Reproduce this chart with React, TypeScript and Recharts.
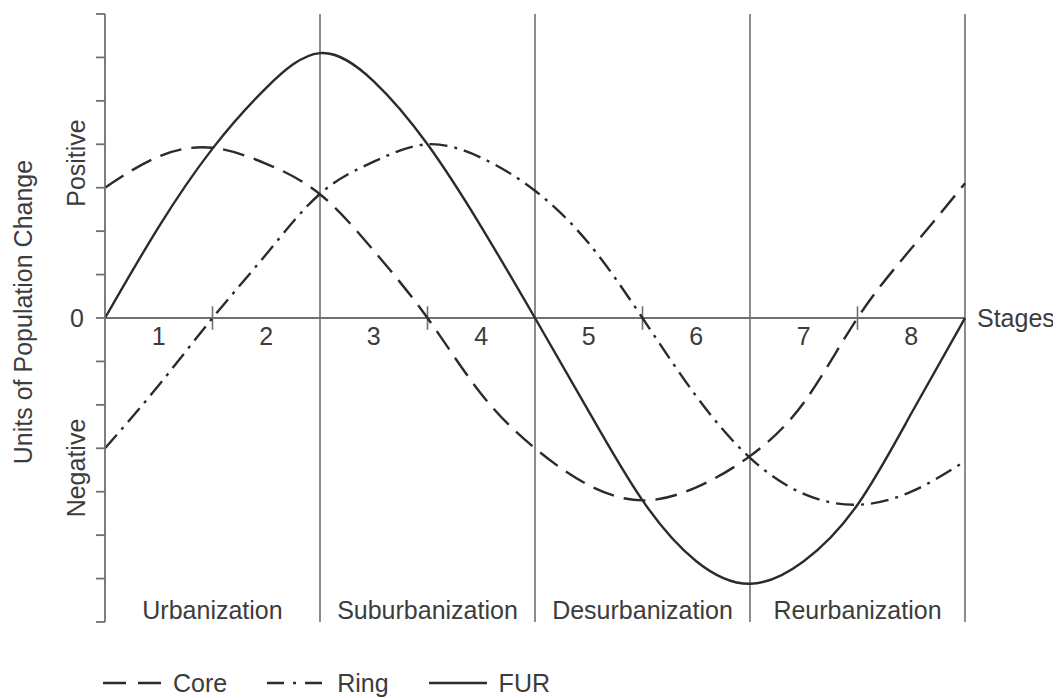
import React from 'react';
import { LineChart, Line, XAxis, YAxis, ReferenceLine, ReferenceDot } from 'recharts';

// values, every half stage
const stages = [0, 0.5, 1, 1.5, 2, 2.5, 3, 3.5, 4, 4.5, 5, 5.5, 6, 6.5, 7, 7.5, 8];
const core = [3.0, 3.72, 3.92, 3.55, 2.85, 1.55, 0, -1.75, -3.0, -3.85, -4.2, -3.9, -3.18, -1.95, 0, 1.6, 3.1];
const ring = [-3.0, -1.55, 0, 1.47, 2.86, 3.6, 4.0, 3.69, 2.93, 1.72, 0, -1.8, -3.22, -4.05, -4.3, -4.0, -3.3];
const fur = [0, 2.1, 3.9, 5.3, 6.1, 5.45, 4.0, 2.1, 0, -2.15, -4.2, -5.6, -6.12, -5.6, -4.3, -2.2, 0];

const yTicks = [-7, -6, -5, -4, -3, -2, -1, 0, 1, 2, 3, 4, 5, 6, 7];
const stageNumbers = ['1', '2', '3', '4', '5', '6', '7', '8'];
const phaseNames = ['Urbanization', 'Suburbanization', 'Desurbanization', 'Reurbanization'];
const phaseEnds = [2, 4, 6, 8];
const crossTicks = [1, 3, 5, 7];
const seriesNames = ['Core', 'Ring', 'FUR'];

const data = stages.map((stage, i) => ({
  stage,
  core: core[i],
  ring: ring[i],
  fur: fur[i],
}));

const INK = '#2b2b2b';
const RULE = '#707070';
const TEXT = '#3c3c3c';
const FS = 25;

const dashes: Record<string, string | undefined> = {
  Core: '22 10',
  Ring: '18 7 3 7',
  FUR: undefined,
};
const legendDashes: Record<string, string | undefined> = {
  Core: '23 12',
  Ring: '17 9 3 9',
  FUR: undefined,
};

const renderYLabels = (props: any) => {
  const vb = props.viewBox || { x: 0, y: 6, width: 97, height: 608 };
  const mid = vb.y + vb.height / 2;
  const cx = vb.x + 15;
  const px = vb.x + 68;
  const items = [
    { t: 'Units of Population Change', x: cx, y: mid - 6 },
    { t: 'Positive', x: px, y: mid - 155 },
    { t: 'Negative', x: px, y: mid + 150 },
  ];
  return (
    <g>
      {items.map((it) => (
        <text
          key={it.t}
          x={it.x}
          y={it.y}
          fill={TEXT}
          fontSize={FS}
          textAnchor="middle"
          dominantBaseline="central"
          transform={`rotate(-90 ${it.x} ${it.y})`}
        >
          {it.t}
        </text>
      ))}
    </g>
  );
};

const Legendish = () => (
  <div
    style={{
      position: 'absolute',
      left: 95,
      top: 662,
      display: 'flex',
      alignItems: 'center',
      gap: 40,
      color: TEXT,
      fontSize: FS,
    }}
  >
    {seriesNames.map((name) => (
      <div key={name} style={{ display: 'flex', alignItems: 'center' }}>
        <svg width={58} height={26}>
          <line x1={0} y1={13} x2={name === 'Ring' ? 56 : 58} y2={13} stroke={INK} strokeWidth={2.4} strokeDasharray={legendDashes[name]} />
        </svg>
        <span style={{ marginLeft: 12, lineHeight: '26px' }}>{name}</span>
      </div>
    ))}
  </div>
);

export default function App() {
  return (
    <div style={{ position: 'relative', width: 1053, height: 690, fontFamily: '"Liberation Sans", Arial, sans-serif' }}>
      <LineChart width={1053} height={690} data={data} margin={{ top: 6, right: 96, bottom: 76, left: 0 }}>
        <XAxis dataKey="stage" type="number" domain={[0, 8]} hide />
        <YAxis
          type="number"
          domain={[-7, 7]}
          ticks={yTicks}
          interval={0}
          width={97}
          tickSize={9}
          tickMargin={12}
          tickFormatter={(v: number) => (v === 0 ? '0' : '')}
          tick={{ fill: TEXT, fontSize: FS }}
          axisLine={{ stroke: RULE, strokeWidth: 1.8 }}
          tickLine={{ stroke: RULE, strokeWidth: 1.8 }}
          label={renderYLabels}
        />
        {phaseEnds.map((x) => (
          <ReferenceLine key={'v' + x} x={x} stroke={RULE} strokeWidth={1.6} />
        ))}
        <ReferenceLine
          y={0}
          stroke={RULE}
          strokeWidth={1.8}
          label={{ value: 'Stages', position: 'right', offset: 12, fill: TEXT, fontSize: FS }}
        />
        {crossTicks.map((x) => (
          <ReferenceLine
            key={'t' + x}
            segment={[{ x, y: -0.27 }, { x, y: 0.27 }]}
            stroke={RULE}
            strokeWidth={1.6}
          />
        ))}
        {stageNumbers.map((s, i) => (
          <ReferenceDot
            key={'n' + s}
            x={i + 0.5}
            y={-0.42}
            r={0}
            fill="none"
            stroke="none"
            label={{ value: s, position: 'center', fill: TEXT, fontSize: FS }}
          />
        ))}
        {phaseNames.map((p, i) => (
          <ReferenceDot
            key={p}
            x={i * 2 + 1}
            y={-6.72}
            r={0}
            fill="none"
            stroke="none"
            label={{ value: p, position: 'center', fill: TEXT, fontSize: FS }}
          />
        ))}
        <Line type="natural" dataKey="core" name="Core" stroke={INK} strokeWidth={2.4} strokeDasharray={dashes.Core} dot={false} isAnimationActive={false} />
        <Line type="natural" dataKey="ring" name="Ring" stroke={INK} strokeWidth={2.4} strokeDasharray={dashes.Ring} dot={false} isAnimationActive={false} />
        <Line type="natural" dataKey="fur" name="FUR" stroke={INK} strokeWidth={2.4} dot={false} isAnimationActive={false} />
      </LineChart>
      <Legendish />
    </div>
  );
}
